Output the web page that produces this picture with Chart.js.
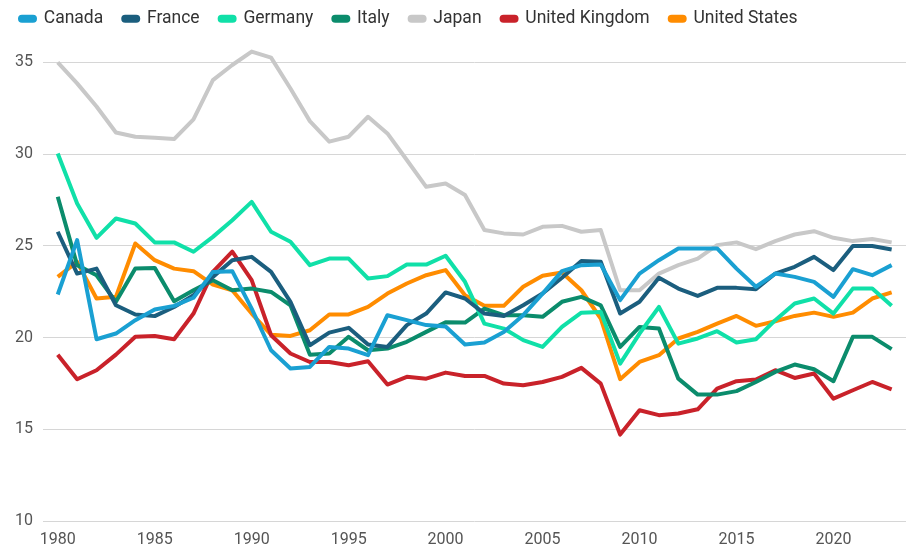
<!DOCTYPE html>
<html>
<head>
<meta charset="utf-8">
<script src="https://cdn.jsdelivr.net/npm/chart.js@4"></script>
<style>
  html, body { margin: 0; padding: 0; background: #fff; }
  #wrap { width: 909px; height: 551px; position: relative; }
</style>
</head>
<body>
<div id="wrap"><canvas id="c"></canvas></div>
<script>
const years = [1980,1981,1982,1983,1984,1985,1986,1987,1988,1989,1990,1991,1992,1993,1994,1995,1996,1997,1998,1999,2000,2001,2002,2003,2004,2005,2006,2007,2008,2009,2010,2011,2012,2013,2014,2015,2016,2017,2018,2019,2020,2021,2022,2023];
const yTicks = [10, 15, 20, 25, 30, 35];
const xTicks = [1980, 1985, 1990, 1995, 2000, 2005, 2010, 2015, 2020];

const canada = [22.35,25.31,19.91,20.22,20.95,21.53,21.73,22.17,23.58,23.62,21.58,19.31,18.31,18.4,19.49,19.4,19.04,21.22,20.95,20.68,20.6,19.62,19.73,20.31,21.22,22.4,23.62,23.95,23.98,22.04,23.49,24.22,24.86,24.86,24.86,23.76,22.77,23.49,23.31,23.04,22.22,23.73,23.4,23.95];
const france = [25.77,23.49,23.76,21.76,21.26,21.17,21.67,22.31,23.31,24.22,24.4,23.58,21.95,19.58,20.27,20.53,19.62,19.49,20.68,21.31,22.46,22.13,21.31,21.18,21.76,22.4,23.26,24.17,24.13,21.31,21.95,23.26,22.67,22.27,22.71,22.71,22.64,23.49,23.86,24.4,23.68,24.99,24.99,24.8];
const germany = [30.04,27.31,25.44,26.49,26.22,25.19,25.19,24.68,25.49,26.4,27.4,25.77,25.22,23.95,24.31,24.31,23.22,23.35,23.98,23.98,24.46,23.04,20.76,20.49,19.86,19.49,20.58,21.36,21.4,18.58,20.22,21.67,19.67,19.95,20.35,19.73,19.91,20.95,21.86,22.13,21.31,22.67,22.67,21.73];
const italy = [27.68,23.95,23.4,21.95,23.76,23.8,21.98,22.58,23.13,22.58,22.67,22.49,21.76,19.07,19.13,20.04,19.31,19.4,19.77,20.31,20.84,20.82,21.58,21.22,21.22,21.13,21.95,22.22,21.76,19.49,20.58,20.49,17.76,16.89,16.89,17.08,17.58,18.13,18.53,18.27,17.62,20.04,20.04,19.37];
const japan = [35.0,33.86,32.6,31.18,30.95,30.9,30.82,31.9,34.04,34.86,35.59,35.26,33.58,31.8,30.68,30.95,32.04,31.13,29.68,28.22,28.4,27.77,25.86,25.68,25.62,26.04,26.09,25.77,25.86,22.58,22.58,23.49,23.95,24.31,25.04,25.19,24.82,25.26,25.62,25.8,25.44,25.26,25.37,25.19];
const uk = [19.07,17.73,18.22,19.07,20.04,20.09,19.91,21.31,23.58,24.68,23.13,20.13,19.13,18.67,18.67,18.49,18.71,17.44,17.86,17.76,18.09,17.91,17.91,17.49,17.4,17.58,17.86,18.35,17.49,14.71,16.04,15.77,15.86,16.09,17.22,17.62,17.71,18.22,17.8,18.04,16.67,17.13,17.58,17.18];
const us = [23.31,24.13,22.13,22.22,25.13,24.22,23.76,23.62,22.89,22.58,21.31,20.16,20.09,20.4,21.26,21.26,21.67,22.4,22.95,23.4,23.68,22.31,21.73,21.73,22.77,23.37,23.55,22.58,21.04,17.73,18.67,19.04,19.95,20.31,20.76,21.18,20.64,20.89,21.18,21.36,21.13,21.36,22.13,22.46];

const seriesNames = ['Canada','France','Germany','Italy','Japan','United Kingdom','United States'];
const seriesValues = [canada, france, germany, italy, japan, uk, us];
const seriesColors = ['#1aa0d2','#1b5e7e','#10e0a8','#0b8c6c','#c8c8c8','#c9222a','#ff8c00'];

const datasets = seriesNames.map((name, k) => ({
  label: name,
  data: years.map((yr, i) => ({ x: yr, y: seriesValues[k][i] })),
  borderColor: seriesColors[k],
  backgroundColor: seriesColors[k],
  borderWidth: 4,
  pointRadius: 0,
  pointHoverRadius: 0,
  tension: 0,
  fill: false,
  borderJoinStyle: 'round'
}));

const FONT = 'Roboto, "Noto Sans", sans-serif';

new Chart(document.getElementById('c'), {
  type: 'line',
  data: { datasets },
  options: {
    responsive: true,
    maintainAspectRatio: false,
    animation: false,
    layout: { padding: { left: 0, right: 3, top: -10, bottom: 4 } },
    plugins: {
      tooltip: { enabled: false },
      legend: {
        display: true,
        position: 'top',
        align: 'start',
        labels: {
          boxWidth: 15,
          boxHeight: 4,
          useBorderRadius: true,
          borderRadius: 2,
          padding: 20,
          color: '#333',
          font: { family: FONT, size: 17.5 }
        }
      }
    },
    scales: {
      x: {
        type: 'linear',
        min: 1979.24,
        max: 2023.74,
        afterFit: (s) => { s.height = 26; },
        grid: { display: false, drawTicks: false },
        border: { display: false },
        afterBuildTicks: (s) => { s.ticks = xTicks.map(v => ({ value: v })); },
        ticks: {
          padding: 9,
          color: '#555',
          font: { family: FONT, size: 16 },
          maxRotation: 0,
          autoSkip: false,
          callback: (v) => String(v)
        }
      },
      y: {
        min: 10,
        max: 36.36,
        afterFit: (s) => { s.width = 43; },
        afterBuildTicks: (s) => { s.ticks = yTicks.map(v => ({ value: v })); },
        grid: { color: '#d6d6d6', lineWidth: 1, drawTicks: false },
        border: { display: false },
        ticks: {
          padding: 10,
          color: '#555',
          font: { family: FONT, size: 16 },
          callback: (v) => String(v)
        }
      }
    }
  }
});
</script>
</body>
</html>
